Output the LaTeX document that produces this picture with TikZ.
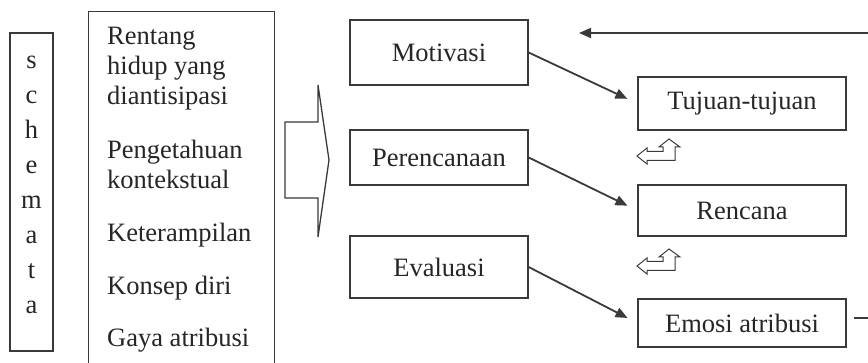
\documentclass[tikz,border=0pt]{standalone}
\usepackage{fontspec}
\setmainfont{Liberation Serif}
\usetikzlibrary{arrows.meta}
\definecolor{linecol}{HTML}{3A3A3A}
\definecolor{textcol}{HTML}{262626}
\newcommand\diagfont{\fontsize{26.5}{30}\selectfont}
\tikzset{
  box/.style={draw=linecol, line width=1.3pt, text=textcol, font=\diagfont, inner sep=0pt},
  item/.style={anchor=base west, text=textcol, font=\diagfont, align=left, inner sep=0pt},
  flow/.style={draw=linecol, line width=1.8pt, -{Triangle[length=12pt,width=10pt]}},
  turn/.pic={\draw[linecol, line width=1pt] (0,0) -- (10,-8) -- (10,-4.5) -- (26,-4.5) -- (26,-9) -- (22,-9) -- (32,-17) -- (43,-9) -- (38,-9) -- (38,4.5) -- (10,4.5) -- (10,8) -- cycle;}
}
\begin{document}
\begin{tikzpicture}[x=1pt, y=-1pt]
  \path[use as bounding box, clip] (0,0) rectangle (868,363);
  % schemata and what it holds
  \node[box, minimum width=43pt, minimum height=318pt, text depth=14pt, align=center, font=\fontsize{26.5}{35}\selectfont] (schemata) at (31.5,192) {s\\c\\h\\e\\m\\a\\t\\a};
  \node[box, anchor=north west, minimum width=186pt, minimum height=380pt] (faktor) at (88,11) {};
  \node[item] (rentang) at (107,105) {Rentang\\hidup yang\\diantisipasi};
  \node[item] (konteks) at (107,189) {Pengetahuan\\kontekstual};
  \node[item] (terampil) at (107,242) {Keterampilan};
  \node[item] (konsep) at (107,295) {Konsep diri};
  \node[item] (gaya) at (107,347) {Gaya atribusi};
  \draw[linecol, line width=1.3pt] (285,122) -- (318,122) -- (318,85) -- (329,160) -- (318,237) -- (318,198) -- (285,198) -- cycle;
  % process
  \node[box, minimum width=178pt, minimum height=65pt] (motivasi) at (439,52.5) {Motivasi};
  \node[box, minimum width=178pt, minimum height=55pt] (perencanaan) at (439,157.5) {Perencanaan};
  \node[box, minimum width=178pt, minimum height=62pt] (evaluasi) at (439,267) {Evaluasi};
  % results
  \node[box, minimum width=208pt, minimum height=53pt] (tujuan) at (742,103.5) {Tujuan-tujuan};
  \node[box, minimum width=208pt, minimum height=51pt] (rencana) at (742,210.5) {Rencana};
  \node[box, minimum width=208pt, minimum height=48pt] (emosi) at (742,323) {Emosi atribusi};
  \draw[flow, shorten >=11pt] (motivasi.east) -- (tujuan.west);
  \draw[flow, shorten >=11pt] (perencanaan.east) -- (rencana.west);
  \draw[flow, shorten >=11pt] (evaluasi.east) -- (emosi.west);
  \pic at (637,156) {turn};
  \pic at (637,266) {turn};
  % feedback
  \coordinate (balik) at (880,33);
  \coordinate (baliktip) at (579,33);
  \draw[flow] (balik) -- (baliktip);
  \coordinate (keluar) at (880,318);
  \draw[linecol, line width=1.4pt] (emosi.east |- keluar) ++(7,0) -- (keluar);
\end{tikzpicture}
\end{document}
